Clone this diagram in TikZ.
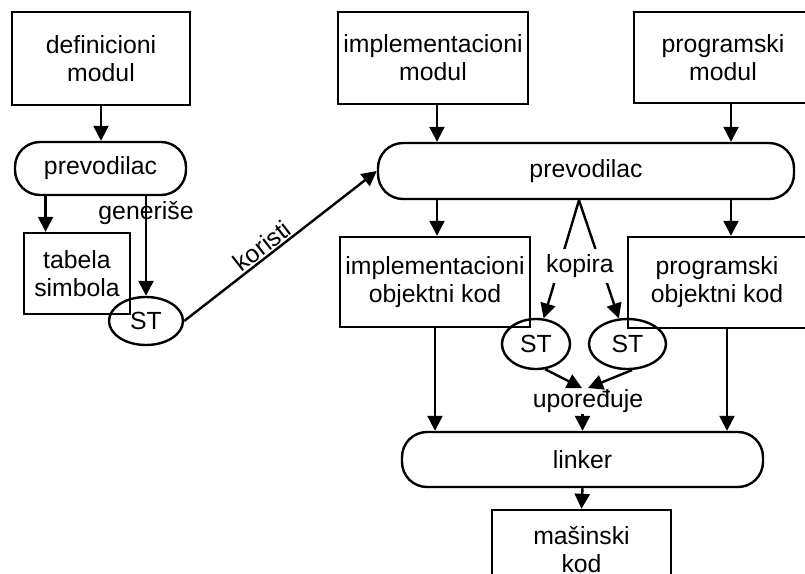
\documentclass[tikz,border=0pt]{standalone}
\usepackage{fontspec}
\setmainfont{Liberation Sans}
\usetikzlibrary{arrows.meta,shapes.geometric,calc}
\tikzset{
  box/.style={draw, line width=1.2pt, align=center, inner sep=1pt},
  pill/.style={draw, line width=1.2pt, rounded corners=12.5pt, inner sep=1pt},
  st/.style={draw, ellipse, line width=1.2pt, inner sep=0pt, minimum height=25pt},
  arr/.style={line width=1.2pt, -{Triangle[length=7.5pt,width=7.5pt]}},
  lab/.style={inner sep=0.5pt},
}
\begin{document}
\begin{tikzpicture}[x=0.5pt, y=-0.5pt, font=\fontsize{12.4}{14}\selectfont]
\useasboundingbox (0,0) rectangle (805,574);
\clip (0,0) rectangle (805,574);
\node[box, minimum width=89pt, minimum height=46.5pt] (defmod) at (101,58.5) {definicioni\\modul};
\node[pill, minimum width=85.5pt, minimum height=26.5pt] (prev1) at (100.5,168.5) {prevodilac};
\node[box, minimum width=53pt, minimum height=40.5pt] (tabela) at (77,273.5) {tabela\\simbola};
\node[st, minimum width=37pt, minimum height=24pt] (st1) at (146,321) {ST};
\node[box, minimum width=95pt, minimum height=46pt] (implmod) at (433,58) {implementacioni\\modul};
\node[box, minimum width=89pt, minimum height=45.5pt] (progmod) at (723,57.5) {programski\\modul};
\node[pill, minimum width=208pt, minimum height=28pt] (prev2) at (586,171) {prevodilac};
\node[box, minimum width=95pt, minimum height=45pt] (implobj) at (435,282) {implementacioni\\objektni kod};
\node[box, minimum width=89pt, minimum height=45.5pt] (progobj) at (717,282.5) {programski\\objektni kod};
\node[st, minimum width=34pt] (st2) at (536,344) {ST};
\node[st, minimum width=38.5pt] (st3) at (627.5,344) {ST};
\node[pill, minimum width=180.5pt, minimum height=27.5pt] (linker) at (582.5,459.5) {linker};
\node[box, minimum width=89.5pt, minimum height=40pt] (masina) at (581.5,550) {mašinski\\kod};
\coordinate (colA) at (437,0);
\coordinate (colB) at (731,0);
\coordinate (colC) at (727,0);
\coordinate (kopsrc) at ($(prev2.south)+(-7,0)$);
\coordinate (tabtop) at ($(tabela.north west)!0.21!(tabela.north east)$);
\draw[arr] (defmod.south) -- (defmod.south |- prev1.north);
\draw[arr] (prev1.south -| tabtop) -- (tabtop);
\draw[arr] (prev1.south -| st1.north) -- (st1.north) node[lab, pos=0.17] {generiše};
\draw[arr] (st1.east) -- (prev2.west) node[lab, pos=0.44, above, sloped] {koristi};
\draw[arr] (implmod.south -| colA) -- (prev2.north -| colA);
\draw[arr] (progmod.south -| colB) -- (prev2.north -| colB);
\draw[arr] (prev2.south -| colA) -- (implobj.north -| colA);
\draw[arr] (prev2.south -| colB) -- (progobj.north -| colB);
\draw[arr] (kopsrc) -- (st2);
\draw[arr] (kopsrc) -- (st3);
\node[lab, fill=white, minimum height=17pt, inner sep=1pt] (kopira) at (580,266) {kopira};
\node[lab] (upo) at (588,401) {upoređuje};
\draw[arr] (st2.-70) -- ([xshift=-3pt]upo.north);
\draw[arr] (st3.-80) -- (upo.north);
\draw[arr] (upo.south -| linker.north) -- (linker.north);
\draw[arr] (implobj.south) -- (implobj.south |- linker.north);
\draw[arr] (progobj.south -| colC) -- (linker.north -| colC);
\draw[arr] (linker.south) -- (masina.north);
\end{tikzpicture}
\end{document}
